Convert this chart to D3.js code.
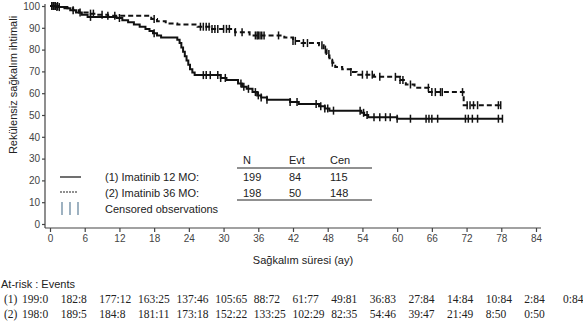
<!DOCTYPE html>
<html>
<head>
<meta charset="utf-8">
<script src="https://cdn.jsdelivr.net/npm/d3@7"></script>
<style>
body { margin: 0; background: #fff; }
svg { display: block; }
.axis path, .axis line { stroke: #444; stroke-width: 1.2; }
.axis text { font-family: Arial, 'Liberation Sans', sans-serif; font-size: 10px; fill: #444; }
.lbl { font-family: Arial, 'Liberation Sans', sans-serif; font-size: 11px; fill: #222; }
.risk { font-family: 'Liberation Serif', 'DejaVu Serif', serif; font-size: 11.5px; fill: #222; }
</style>
</head>
<body>
<svg width="583" height="326"></svg>
<script>
//Step curves: [month, survival %] at each drop.
var steps1 = [[0,100],[1,99.5],[2.5,99],[3.5,98],[4.5,97],[5.5,96],[6.5,95],[11.5,94.5],[12.5,93.5],[13.5,92.5],
  [14.5,91.5],[15.5,90.5],[16.5,89.5],[17.2,88.5],[17.8,87.5],[18.5,86.5],[19.2,85.5],[22,84.5],[22.4,83],[22.7,81],
  [23,79],[23.3,77],[23.6,75],[23.9,73],[24.2,71],[24.6,69.5],[25,68.3],[29.5,67],[30.5,66],[32.5,64.5],[33.2,63],
  [34,62],[35,60.5],[35.8,59],[36.5,58],[37.5,57],[41.5,56],[43,55],[46.5,54],[47.5,53],[48.3,52],[53.8,51],
  [54.3,50],[55,49],[60,48.3]];
var steps2 = [[0,100],[1.5,99.5],[3,99],[4,98],[5,97],[6.5,96.5],[8,96],[10,95.5],[17.5,94],[18.5,93],[20,92],
  [22,91.5],[25.5,90.5],[28,89.5],[32,88],[34.5,86.5],[40.5,85.5],[42,84],[43.5,83],[46.5,82],[47.3,80],[47.8,78],
  [48.3,76],[48.8,74],[49.3,72],[50.5,71],[52,69.7],[53,68.5],[56,67.5],[60.5,66],[61.5,64],[63,62.5],[65.5,60.5],
  [71.5,54.5]];
var end1 = 78.2, end2 = 77.9;
//Censoring times (months).
var cens1 = [0.3,0.6,0.9,1.2,1.6,4,7,12,18,26.5,27,27.7,29,29.5,30.3,33,33.5,34.3,35.5,36,36.5,37.5,41.5,42.7,
  46,46.8,47.5,48,49,53.6,54.2,54.8,56,57,58,58.8,60,62.3,65,65.5,66,67,71.8,72.3,73,73.9,77.5,78.2];
var cens2 = [0.3,0.6,0.9,1.3,5.2,7,7.5,9,10,11.2,18,26,26.5,27,27.5,28,28.5,29,30,30.5,31,32,33.2,35.5,35.8,36,
  36.3,36.6,37,39.5,42,42.4,43.8,44.5,47,47.6,48.2,48.8,52,54,54.8,55.7,57,59.7,60.5,61,62.3,65.4,66,66.6,67.5,
  67.8,71.3,72.1,72.6,73.2,73.9,77.5,77.9];
var xTicks = d3.range(0, 85, 6);
var yTicks = d3.range(0, 101, 10);
//Legend table.
var tableHead = ['N', 'Evt', 'Cen'];
var tableRows = [['199', '84', '115'], ['198', '50', '148']];
var legendLabels = ['(1) Imatinib 12 MO:', '(2) Imatinib 36 MO:', 'Censored observations'];
//Numbers at risk : events.
var risk1 = ['199:0','182:8','177:12','163:25','137:46','105:65','88:72','61:77','49:81','36:83','27:84','14:84','10:84','2:84','0:84'];
var risk2 = ['198:0','189:5','184:8','181:11','173:18','152:22','133:25','102:29','82:35','54:46','39:47','21:49','8:50','0:50'];

var svg = d3.select('svg');
var x = d3.scaleLinear().domain([0, 84]).range([50, 536]);
var y = d3.scaleLinear().domain([0, 100]).range([224, 6]);

//Axes, offset from the plotting area.
svg.append('g').attr('class', 'axis')
  .attr('transform', 'translate(0,228)')
  .call(d3.axisBottom(x).tickValues(xTicks).tickSize(4).tickPadding(3).tickSizeOuter(0))
  .call(function(g) { g.select('.domain').attr('d', 'M45,0H541'); });
svg.append('g').attr('class', 'axis')
  .attr('transform', 'translate(45,0)')
  .call(d3.axisLeft(y).tickValues(yTicks).tickSize(3).tickPadding(2).tickSizeOuter(0))
  .call(function(g) { g.select('.domain').attr('d', 'M0,4V228'); });

function stepValue(steps, t) {
  var v = steps[0][1];
  steps.forEach(function(s) { if (s[0] <= t) v = s[1]; });
  return v;
}
function curve(steps, end) {
  var pts = steps.slice();
  pts.push([end, steps[steps.length - 1][1]]);
  return d3.line().curve(d3.curveStepAfter)
    .x(function(d) { return x(d[0]); })
    .y(function(d) { return y(d[1]); })(pts);
}
svg.append('path').attr('d', curve(steps1, end1))
  .attr('fill', 'none').attr('stroke', '#111').attr('stroke-width', 2);
svg.append('path').attr('d', curve(steps2, end2))
  .attr('fill', 'none').attr('stroke', '#111').attr('stroke-width', 2).attr('stroke-dasharray', '5,3');

function censors(times, steps) {
  svg.append('g').selectAll('line').data(times).join('line')
    .attr('x1', function(d) { return x(d); }).attr('x2', function(d) { return x(d); })
    .attr('y1', function(d) { return y(stepValue(steps, d)) - 4; })
    .attr('y2', function(d) { return y(stepValue(steps, d)) + 4; })
    .attr('stroke', '#111').attr('stroke-width', 1.5);
}
censors(cens1, steps1);
censors(cens2, steps2);

//Legend.
svg.append('line').attr('x1', 60).attr('x2', 81).attr('y1', 177).attr('y2', 177)
  .attr('stroke', '#222').attr('stroke-width', 1.3);
svg.append('line').attr('x1', 60).attr('x2', 78).attr('y1', 192).attr('y2', 192)
  .attr('stroke', '#222').attr('stroke-width', 1.2).attr('stroke-dasharray', '2,1');
[62, 70, 78].forEach(function(px) {
  svg.append('line').attr('x1', px).attr('x2', px).attr('y1', 202).attr('y2', 215)
    .attr('stroke', '#5d7e98').attr('stroke-width', 1.2);
});
svg.selectAll('.leg').data(legendLabels).join('text')
  .attr('class', 'lbl leg').attr('x', 105)
  .attr('y', function(d, i) { return 181 + i * 16; })
  .text(function(d) { return d; });

var colX = [243, 289, 330];
svg.selectAll('.th').data(tableHead).join('text')
  .attr('class', 'lbl th').attr('x', function(d, i) { return colX[i]; }).attr('y', 164)
  .text(function(d) { return d; });
tableRows.forEach(function(row, r) {
  svg.selectAll('.tr' + r).data(row).join('text')
    .attr('class', 'lbl tr' + r).attr('x', function(d, i) { return colX[i]; }).attr('y', 181 + r * 16)
    .text(function(d) { return d; });
});
[168, 200].forEach(function(py) {
  svg.append('line').attr('x1', 237).attr('x2', 372).attr('y1', py).attr('y2', py)
    .attr('stroke', '#222').attr('stroke-width', 1);
});

//Axis titles.
svg.append('text').attr('class', 'lbl')
  .attr('transform', 'translate(17,85) rotate(-90)').attr('text-anchor', 'middle')
  .text('Rekülensiz  sağkalım ihtimali');
svg.append('text').attr('class', 'lbl').attr('x', 303).attr('y', 264).attr('text-anchor', 'middle')
  .text('Sağkalım süresi (ay)');

//At-risk table.
var riskX = d3.scaleLinear().domain([0, 14]).range([22, 563]);
svg.append('text').attr('class', 'lbl').attr('x', 1).attr('y', 288).text('At-risk : Events');
[risk1, risk2].forEach(function(row, r) {
  var yy = 303 + r * 15;
  svg.append('text').attr('class', 'risk').attr('x', 4).attr('y', yy).text('(' + (r + 1) + ')');
  svg.selectAll('.rk' + r).data(row).join('text')
    .attr('class', 'risk rk' + r).attr('x', function(d, i) { return riskX(i); }).attr('y', yy)
    .text(function(d) { return d; });
});
</script>
</body>
</html>
